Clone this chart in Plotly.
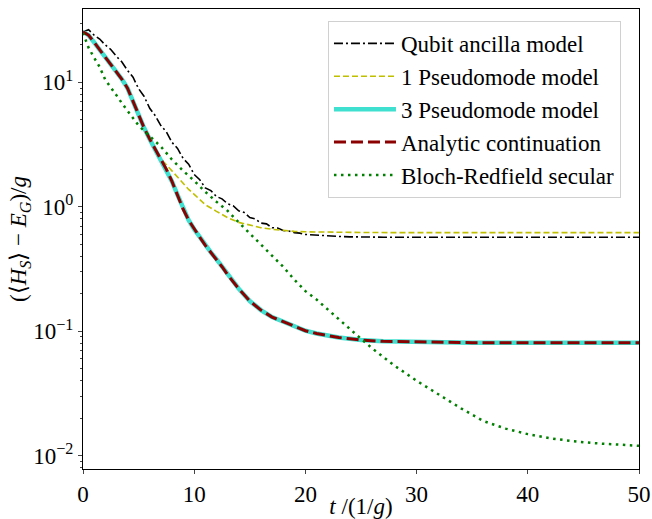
import plotly.graph_objects as go

# ---- data ----
t_qubit = [0, 0.5, 1, 1.5, 2, 2.5, 3, 3.5, 4, 4.5, 5, 5.5, 6, 6.5, 7, 7.5, 8, 8.5, 9, 9.5,
           10, 10.5, 11, 11.5, 12, 12.5, 13, 13.5, 14, 14.5, 15, 15.5, 16, 16.5, 17, 17.5,
           18, 18.5, 19, 19.5, 20, 21, 22, 23, 24, 25, 27, 30, 35, 40, 45, 50]
qubit = [25.5, 26.5, 24, 22.3, 20, 18.4, 16.2, 14.6, 12.5, 11.0, 8.9, 7.7, 6.2, 5.4, 4.5, 4.0, 3.3, 2.95, 2.45, 2.2,
         1.82, 1.65, 1.42, 1.35, 1.21, 1.16, 1.06, 1.02, 0.93, 0.9, 0.82, 0.8, 0.74, 0.73, 0.68, 0.675,
         0.645, 0.64, 0.62, 0.615, 0.6, 0.59, 0.58, 0.578, 0.574, 0.572, 0.57, 0.57, 0.57, 0.57, 0.57, 0.57]

t_pm1 = [0, 0.5, 1, 1.5, 2, 2.5, 3, 3.5, 4, 4.5, 5, 5.5, 6, 6.5, 7, 7.5, 8, 8.5, 9, 9.5,
         10, 10.5, 11, 12, 13, 14, 15, 16, 17, 18, 19, 20, 22, 25, 30, 40, 50]
pm1 = [25.5, 24, 21, 18.3, 16.3, 14.2, 12.3, 10.6, 9.0, 7.0, 5.5, 4.3, 3.5, 2.9, 2.42, 2.18, 1.95, 1.72, 1.53, 1.38,
       1.26, 1.14, 1.04, 0.92, 0.82, 0.75, 0.71, 0.68, 0.66, 0.645, 0.635, 0.63, 0.625, 0.622, 0.62, 0.62, 0.62]

t_pm3 = [0, 0.5, 1, 1.5, 2, 2.5, 3, 3.5, 4, 4.5, 5, 5.5, 6, 6.5, 7, 7.5, 8, 8.5, 9, 9.5,
         10, 10.5, 11, 11.5, 12, 12.5, 13, 13.5, 14, 15, 16, 17, 18, 19, 20, 21, 22, 23, 24, 25, 27, 30, 35, 40, 45, 50]
pm3 = [25.5, 24, 21, 18.3, 16.3, 14.2, 12.3, 10.6, 9.0, 7.0, 5.5, 4.3, 3.5, 2.9, 2.4, 2.0, 1.6, 1.25, 0.96, 0.78,
       0.66, 0.57, 0.49, 0.43, 0.38, 0.33, 0.285, 0.25, 0.22, 0.175, 0.148, 0.13, 0.12, 0.11, 0.101, 0.096, 0.092,
       0.089, 0.087, 0.085, 0.083, 0.082, 0.081, 0.081, 0.081, 0.081]
t_analytic = t_pm3
analytic = pm3

t_br = [0, 0.5, 1, 1.5, 2, 2.5, 3, 3.5, 4, 4.5, 5, 6, 7, 8, 9, 10, 11, 12, 13, 14, 15, 16, 17, 18, 19, 20,
        21, 22, 23, 24, 25, 26, 27, 28, 30, 32, 34, 36, 38, 40, 42, 44, 46, 48, 50]
br = [25, 19, 15.8, 13.3, 10.5, 9.0, 7.9, 6.8, 5.9, 5.1, 4.5, 3.7, 3.05, 2.4, 1.95, 1.62, 1.32, 1.1, 0.93, 0.75,
      0.61, 0.5, 0.41, 0.33, 0.26, 0.21, 0.18, 0.15, 0.125, 0.103, 0.087, 0.073, 0.062, 0.053, 0.04, 0.031,
      0.024, 0.019, 0.0165, 0.0149, 0.0138, 0.0131, 0.0126, 0.0123, 0.012]

names = ["Qubit ancilla model", "1 Pseudomode model", "3 Pseudomode model",
         "Analytic continuation", "Bloch-Redfield secular"]

y_tickvals = [0.01, 0.1, 1, 10]
y_ticktext = ["10<sup>−2</sup>", "10<sup>−1</sup>", "10<sup>0</sup>", "10<sup>1</sup>"]
x_tickvals = [0, 10, 20, 30, 40, 50]
y_minor = [m * d for d in (0.001, 0.01, 0.1, 1, 10) for m in range(2, 10)]

FONT = "Liberation Serif"
FS = 23

fig = go.Figure()
fig.add_trace(go.Scatter(x=t_qubit, y=qubit, mode="lines", name=names[0],
                         line=dict(color="black", width=1.6, dash="9px,3px,2px,3px")))
fig.add_trace(go.Scatter(x=t_pm1, y=pm1, mode="lines", name=names[1],
                         line=dict(color="#bfbf00", width=1.6, dash="6px,3px")))
fig.add_trace(go.Scatter(x=t_pm3, y=pm3, mode="lines", name=names[2],
                         line=dict(color="#40E0D0", width=4.5)))
fig.add_trace(go.Scatter(x=t_analytic, y=analytic, mode="lines", name=names[3],
                         line=dict(color="#8B0000", width=3, dash="12px,5px")))
fig.add_trace(go.Scatter(x=t_br, y=br, mode="lines", name=names[4],
                         line=dict(color="green", width=2.5, dash="2.5px,4.5px")))

fig.update_layout(
    width=652, height=519,
    margin=dict(l=83, r=13, t=9, b=50),
    paper_bgcolor="white", plot_bgcolor="white",
    font=dict(family=FONT, size=FS, color="black"),
    showlegend=True,
    legend=dict(x=0.4406, y=0.974, xanchor="left", yanchor="top",
                bgcolor="rgba(255,255,255,0.8)", bordercolor="#d0d0d0", borderwidth=1,
                font=dict(family=FONT, size=FS), tracegroupgap=0, itemwidth=62),
)
fig.update_xaxes(range=[0, 50], tickvals=x_tickvals, ticks="outside", ticklen=4, tickwidth=1,
                 showline=True, linecolor="black", linewidth=1, mirror=True, showgrid=False,
                 zeroline=False, tickfont=dict(family=FONT, size=FS), automargin=False,
                 title=dict(text="<i>t</i> /(1/<i>g</i>)", font=dict(family=FONT, size=FS), standoff=0))
fig.update_yaxes(type="log", range=[-2.107, 1.59], tickvals=y_tickvals, ticktext=y_ticktext,
                 ticks="outside", ticklen=4, tickwidth=1,
                 minor=dict(tickvals=y_minor, ticks="outside", ticklen=2, tickwidth=0.8, showgrid=False),
                 showline=True, linecolor="black", linewidth=1, mirror=True, showgrid=False,
                 zeroline=False, tickfont=dict(family=FONT, size=FS), automargin=False,
                 title=dict(text="(⟨<i>H</i><sub><i>S</i></sub>⟩ − <i>E</i><sub><i>G</i></sub>)/<i>g</i>",
                            font=dict(family=FONT, size=FS), standoff=0))

fig.write_html("out.html", config={"displayModeBar": False},
               post_script="document.body.style.margin='0';")
